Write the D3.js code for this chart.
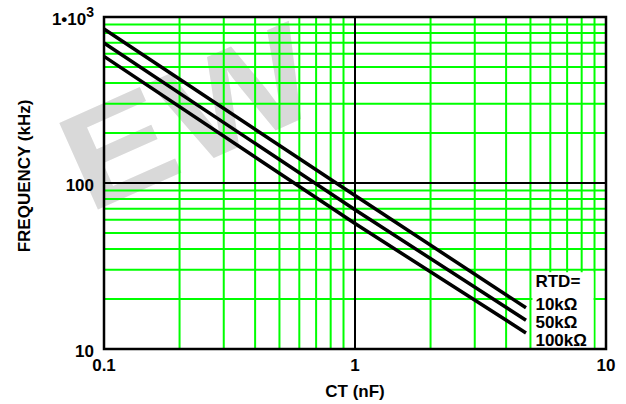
<!DOCTYPE html>
<html>
<head>
<meta charset="utf-8">
<script src="https://cdn.jsdelivr.net/npm/d3@7"></script>
<style>
  body { margin: 0; background: #fff; }
  text { font-family: "Liberation Sans", Arial, sans-serif; font-weight: bold; fill: #000; }
</style>
</head>
<body>
<div class="canvas"></div>
<script>
// data
const ctValues = [0.1, 1, 4.8];
const freq10k = [847, 84, 17.7];
const freq50k = [697, 69, 14.9];
const freq100k = [579, 57, 12.5];
const seriesNames = ['10kΩ', '50kΩ', '100kΩ'];
const xTickLabels = ['0.1', '1', '10'];
const xTickValues = [0.1, 1, 10];
const yTickValues = [10, 100, 1000];

const svg = d3.select('.canvas')
  .append('svg')
    .attr('width', 626)
    .attr('height', 404);

// plot box
const margin = {top: 17, right: 20, bottom: 55, left: 104};
const graphWidth = 626 - margin.left - margin.right;
const graphHeight = 404 - margin.top - margin.bottom;

const x = d3.scaleLog().domain([0.1, 10]).range([0, graphWidth]);
const y = d3.scaleLog().domain([10, 1000]).range([graphHeight, 0]);

// watermark behind the grid
svg.append('text')
  .attr('transform', 'translate(88,214) rotate(-24) scale(1.18,1)')
  .style('font-size', '138px')
  .style('fill', '#d9d9d9')
  .text('EW');

const graph = svg.append('g')
  .attr('transform', `translate(${margin.left}, ${margin.top})`);

// minor grid, green
const xMinor = x.ticks().filter(d => !xTickValues.includes(d));
const yMinor = y.ticks().filter(d => !yTickValues.includes(d));

graph.selectAll('line.vgrid')
  .data(xMinor)
  .enter().append('line')
    .attr('class', 'vgrid')
    .attr('x1', d => x(d)).attr('x2', d => x(d))
    .attr('y1', 0).attr('y2', graphHeight)
    .attr('stroke', '#00ff00')
    .attr('stroke-width', 2);

graph.selectAll('line.hgrid')
  .data(yMinor)
  .enter().append('line')
    .attr('class', 'hgrid')
    .attr('x1', 0).attr('x2', graphWidth)
    .attr('y1', d => y(d)).attr('y2', d => y(d))
    .attr('stroke', '#00ff00')
    .attr('stroke-width', 2);

// major grid, black
graph.append('line')
  .attr('x1', x(1)).attr('x2', x(1))
  .attr('y1', 0).attr('y2', graphHeight)
  .attr('stroke', '#000').attr('stroke-width', 2);
graph.append('line')
  .attr('x1', 0).attr('x2', graphWidth)
  .attr('y1', y(100)).attr('y2', y(100))
  .attr('stroke', '#000').attr('stroke-width', 2);

// white patch behind legend text
graph.append('rect')
  .attr('x', x(5) + 2)
  .attr('y', y(29))
  .attr('width', x(9) - x(5) - 3)
  .attr('height', graphHeight - y(29))
  .attr('fill', '#fff');

// curves
const line = d3.line()
  .x((d, i) => x(ctValues[i]))
  .y(d => y(d));

graph.selectAll('path.curve')
  .data([freq10k, freq50k, freq100k])
  .enter().append('path')
    .attr('class', 'curve')
    .attr('d', d => line(d))
    .attr('fill', 'none')
    .attr('stroke', '#000')
    .attr('stroke-width', 3.5);

// border
graph.append('rect')
  .attr('width', graphWidth)
  .attr('height', graphHeight)
  .attr('fill', 'none')
  .attr('stroke', '#000')
  .attr('stroke-width', 2.5);

// legend
const legend = graph.append('g')
  .attr('transform', `translate(${x(5) + 5}, ${y(29)})`)
  .style('font-size', '17px');
legend.append('text').attr('y', 15).text('RTD=');
legend.selectAll('text.name')
  .data(seriesNames)
  .enter().append('text')
    .attr('class', 'name')
    .attr('y', (d, i) => 38 + i * 18)
    .text(d => d);

// tick labels
graph.selectAll('text.xtick')
  .data(xTickValues)
  .enter().append('text')
    .attr('class', 'xtick')
    .attr('x', d => x(d))
    .attr('y', graphHeight + 22)
    .attr('text-anchor', 'middle')
    .style('font-size', '17px')
    .text((d, i) => xTickLabels[i]);

const yLab = graph.selectAll('text.ytick')
  .data(yTickValues)
  .enter().append('text')
    .attr('class', 'ytick')
    .attr('x', -10)
    .attr('y', d => y(d) + 8)
    .attr('text-anchor', 'end')
    .style('font-size', '17px');
yLab.filter(d => d < 1000).text(d => d);
yLab.filter(d => d === 1000).each(function() {
  const t = d3.select(this);
  t.append('tspan').text('1•10');
  t.append('tspan').attr('dy', -8).style('font-size', '14px').text('3');
});

// axis titles
svg.append('text')
  .attr('x', margin.left + x(1))
  .attr('y', 397)
  .attr('text-anchor', 'middle')
  .style('font-size', '17px')
  .text('CT (nF)');

svg.append('text')
  .attr('transform', 'translate(30, 176) rotate(-90)')
  .attr('text-anchor', 'middle')
  .style('font-size', '17px')
  .text('FREQUENCY (kHz)');
</script>
</body>
</html>
